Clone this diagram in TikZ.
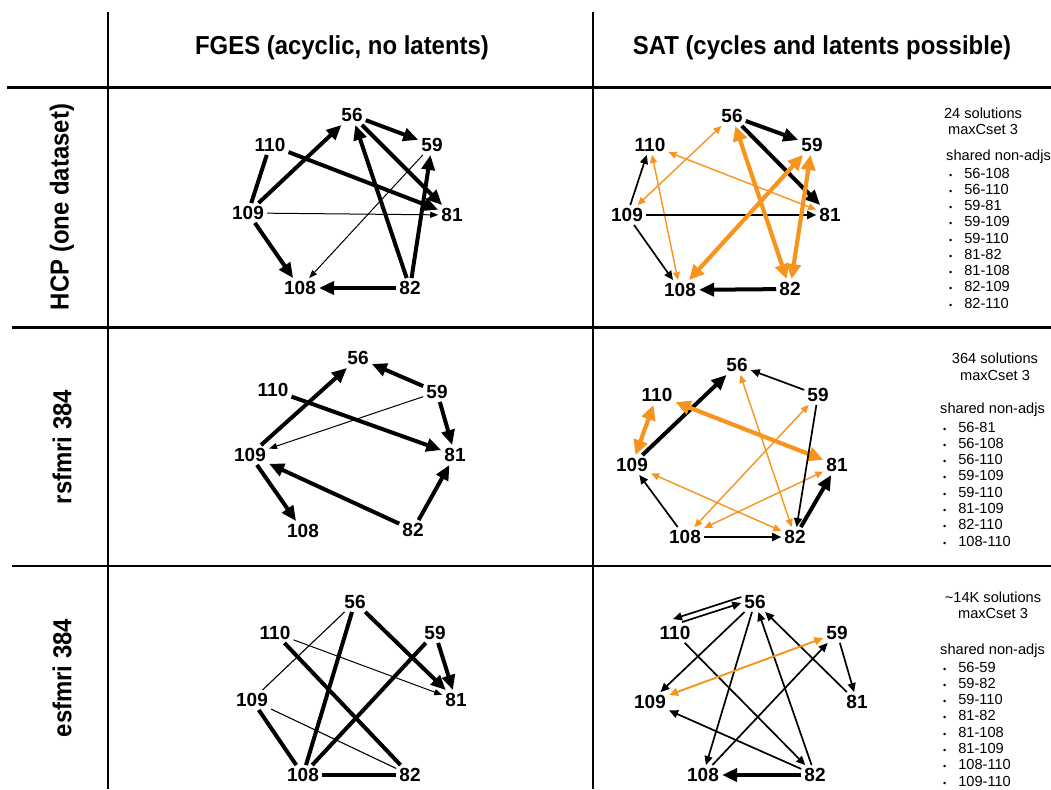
\documentclass[tikz,border=0pt]{standalone}
\usepackage{fontspec}
\setmainfont{Liberation Sans}
\newfontfamily\headfont[FakeStretch=0.92]{Liberation Sans}
\usetikzlibrary{arrows.meta}
\definecolor{satorange}{HTML}{F7941D}

\begin{document}
\begin{tikzpicture}[x=1pt,y=-1pt,
  vert/.style={font=\fontsize{19}{19}\selectfont\bfseries,inner sep=3pt},
  head/.style={font=\headfont\fontsize{26}{26}\selectfont\bfseries,inner sep=0pt},
  info/.style={font=\fontsize{14.6}{14.6}\selectfont,inner sep=0pt},
  rule/.style={line width=2pt},
  bigarr/.style={line width=4pt,-{Triangle[length=15pt,width=13pt]}},
  midarr/.style={line width=1.7pt,-{Triangle[length=9pt,width=8pt]}},
  thinarr/.style={line width=1pt,-{Triangle[length=8pt,width=6pt]}},
  bigline/.style={line width=4pt},
  thinline/.style={line width=1.1pt},
  bigboth/.style={line width=4.2pt,satorange,{Triangle[length=15pt,width=14pt]}-{Triangle[length=15pt,width=14pt]}},
  midboth/.style={line width=1.9pt,satorange,{Triangle[length=9pt,width=8pt]}-{Triangle[length=9pt,width=8pt]}},
  thinboth/.style={line width=1.4pt,satorange,{Triangle[length=8pt,width=7pt]}-{Triangle[length=8pt,width=7pt]}}
]
\useasboundingbox (0,0) rectangle (1051,789);

% table rules
\draw[line width=3pt] (7,88) -- (1051,88);
\draw[rule] (108,12) -- (108,789);
\draw[rule] (593,12) -- (593,789);
\draw[line width=3pt] (12,327) -- (1051,327);
\draw[rule] (12,566) -- (1051,566);

% headers
\node[head] (fges) at (342,48) {FGES (acyclic, no latents)};
\node[head] (sat) at (822,48) {SAT (cycles and latents possible)};
\node[head,rotate=90] (hcp) at (62,207) {HCP (one dataset)};
\node[head,rotate=90] (rsf) at (62,447) {rsfmri 384};
\node[head,rotate=90] (esf) at (62,678) {esfmri 384};

% HCP, FGES
\foreach \n/\x/\y in {56/352/115,59/432/145,110/270/145,109/248/213,81/452/215,108/300/288,82/410/288}
  \node[vert] (fa-\n) at (\x,\y) {\n};
\draw[bigarr] (fa-56) -- (fa-59);
\draw[bigline] (fa-110) -- (fa-109);
\draw[bigarr] (fa-109) -- (fa-56);
\draw[bigarr] (fa-110) -- (fa-81);
\draw[bigarr] (fa-56) -- (fa-81);
\draw[thinarr] (fa-109) -- (fa-81);
\draw[thinarr] (fa-59) -- (fa-108);
\draw[bigarr] (fa-82) -- (fa-56);
\draw[bigarr] (fa-82) -- (fa-59);
\draw[bigarr] (fa-109) -- (fa-108);
\draw[bigarr] (fa-82) -- (fa-108);

% HCP, SAT
\foreach \n/\x/\y in {56/732/116,59/812/145,110/650/145,109/627/215,81/830/215,108/680/290,82/790/289}
  \node[vert] (sa-\n) at (\x,\y) {\n};
\draw[bigarr] (sa-56) -- (sa-59);
\draw[bigarr] (sa-56) -- (sa-81);
\draw[midarr] (sa-109) -- (sa-110);
\draw[thinboth] (sa-56) -- (sa-109);
\draw[thinboth] (sa-110) -- (sa-81);
\draw[thinboth] (sa-110) -- (sa-108);
\draw[midarr] (sa-109) -- (sa-81);
\draw[midarr] (sa-109) -- (sa-108);
\draw[bigboth] (sa-59) -- (sa-108);
\draw[bigboth] (sa-56) -- (sa-82);
\draw[bigboth] (sa-59) -- (sa-82);
\draw[bigarr] (sa-82) -- (sa-108);

\node[info] (sol-a) at (983,113) {24 solutions};
\node[info] (cset-a) at (983,129) {maxCset 3};
\node[info,anchor=west] (nadj-a) at (946,157) {shared non-adjs};
\foreach \p [count=\i] in {56-108,56-110,59-81,59-109,59-110,81-82,81-108,82-109,82-110}
  \node[info,anchor=west] (na-\i) at (949,{173+16.25*(\i-1)}) {{\fontsize{9}{9}\selectfont\textbullet}\hspace{12pt}\p};

% rsfmri, FGES
\foreach \n/\x/\y in {56/358/358,59/437/392,110/273/390,109/250/455,81/455/455,108/303/531,82/413/530}
  \node[vert] (fb-\n) at (\x,\y) {\n};
\draw[bigarr] (fb-109) -- (fb-56);
\draw[bigarr] (fb-59) -- (fb-56);
\draw[bigarr] (fb-110) -- (fb-81);
\draw[thinarr] (fb-59) -- (fb-109);
\draw[bigarr] (fb-59) -- (fb-81);
\draw[bigarr] (fb-82) -- (fb-109);
\draw[bigarr] (fb-82) -- (fb-81);
\draw[bigarr] (fb-109) -- (fb-108);

% rsfmri, SAT
\foreach \n/\x/\y in {56/737/365,59/818/395,110/657/395,109/632/465,81/837/465,108/685/537,82/795/537}
  \node[vert] (sb-\n) at (\x,\y) {\n};
\draw[midarr] (sb-59) -- (sb-56);
\draw[bigarr] (sb-109) -- (sb-56);
\draw[bigboth] (sb-110) -- (sb-109);
\draw[bigboth] (sb-110) -- (sb-81);
\draw[thinboth] (sb-56) -- (sb-82);
\draw[thinboth] (sb-59) -- (sb-108);
\draw[thinboth] (sb-81) -- (sb-108);
\draw[thinboth] (sb-109) -- (sb-82);
\draw[midarr] (sb-59) -- (sb-82);
\draw[midarr] (sb-108) -- (sb-109);
\draw[midarr] (sb-108) -- (sb-82);
\draw[bigarr] (sb-82) -- (sb-81);

\node[info] (sol-b) at (995,358) {364 solutions};
\node[info] (cset-b) at (995,375) {maxCset 3};
\node[info,anchor=west] (nadj-b) at (940,410) {shared non-adjs};
\foreach \p [count=\i] in {56-81,56-108,56-110,59-109,59-110,81-109,82-110,108-110}
  \node[info,anchor=west] (nb-\i) at (943,{427+16.3*(\i-1)}) {{\fontsize{9}{9}\selectfont\textbullet}\hspace{12pt}\p};

% esfmri, FGES
\foreach \n/\x/\y in {56/355/602,59/435/633,110/275/633,109/252/700,81/456/700,108/303/775,82/410/775}
  \node[vert] (fc-\n) at (\x,\y) {\n};
\draw[thinline] (fc-56) -- (fc-109);
\draw[bigline] (fc-56) -- (fc-108);
\draw[bigarr] (fc-56) -- (fc-81);
\draw[thinarr] (fc-110) -- (fc-81);
\draw[bigline] (fc-110) -- (fc-82);
\draw[bigline] (fc-59) -- (fc-108);
\draw[bigarr] (fc-59) -- (fc-81);
\draw[bigline] (fc-109) -- (fc-108);
\draw[thinline] (fc-109) -- (fc-82);
\draw[bigline] (fc-108) -- (fc-82);

% esfmri, SAT
\foreach \n/\x/\y in {56/755/602,59/837/633,110/675/633,109/650/702,81/857/702,108/703/775,82/815/775}
  \node[vert] (sc-\n) at (\x,\y) {\n};
\draw[midarr] ([yshift=5pt]sc-56.west) -- ([xshift=-2pt,yshift=4pt]sc-110.north);
\draw[midarr] ([xshift=7pt,yshift=1pt]sc-110.north) -- ([yshift=-1pt]sc-56.west);
\draw[midarr] (sc-56) -- (sc-109);
\draw[midarr] (sc-56) -- (sc-108);
\draw[midarr] (sc-82) -- (sc-56);
\draw[midarr] (sc-81) -- (sc-56);
\draw[midarr] (sc-110) -- (sc-82);
\draw[midboth] (sc-109) -- (sc-59);
\draw[midarr] (sc-108) -- (sc-59);
\draw[midarr] (sc-82) -- (sc-109);
\draw[bigarr] (sc-82) -- (sc-108);
\draw[midarr] (sc-59) -- (sc-81);

\node[info] (sol-c) at (993,597) {\textasciitilde14K solutions};
\node[info] (cset-c) at (993,613) {maxCset 3};
\node[info,anchor=west] (nadj-c) at (940,651) {shared non-adjs};
\foreach \p [count=\i] in {56-59,59-82,59-110,81-82,81-108,81-109,108-110,109-110}
  \node[info,anchor=west] (nc-\i) at (943,{667+16.3*(\i-1)}) {{\fontsize{9}{9}\selectfont\textbullet}\hspace{12pt}\p};
\end{tikzpicture}
\end{document}
